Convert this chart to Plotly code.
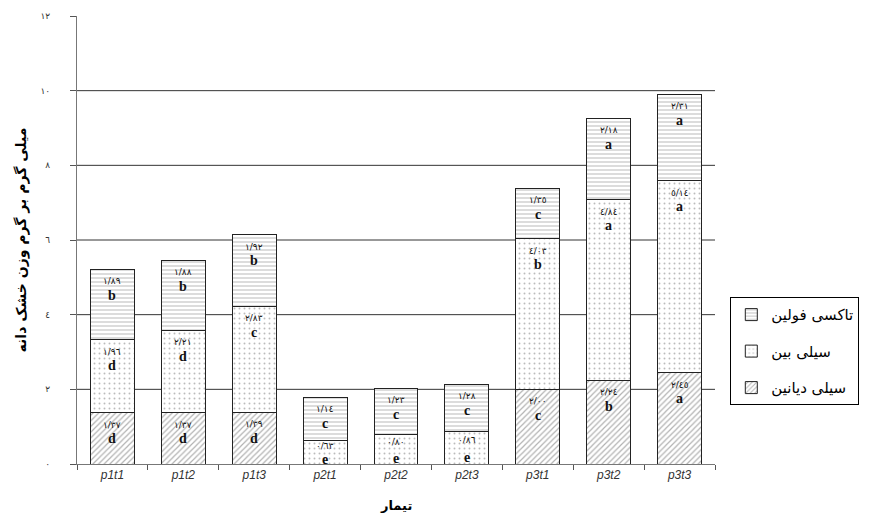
import plotly.graph_objects as go

categories = ["p1t1", "p1t2", "p1t3", "p2t1", "p2t2", "p2t3", "p3t1", "p3t2", "p3t3"]
silydianin = [1.37, 1.37, 1.39, 0.0, 0.0, 0.0, 2.00, 2.24, 2.45]
silybin = [1.96, 2.21, 2.83, 0.63, 0.80, 0.86, 4.03, 4.84, 5.14]
taxifolin = [1.89, 1.88, 1.92, 1.14, 1.23, 1.28, 1.35, 2.18, 2.31]
letters_silydianin = ["d", "d", "d", "", "", "", "c", "b", "a"]
letters_silybin = ["d", "d", "c", "e", "e", "e", "b", "a", "a"]
letters_taxifolin = ["b", "b", "b", "c", "c", "c", "c", "a", "a"]
names = ["سیلی دیانین", "سیلی بین", "تاکسی فولین"]
ytick_vals = [0, 2, 4, 6, 8, 10, 12]
ytick_text = ["٠", "٢", "٤", "٦", "٨", "١٠", "١٢"]
y_title = "میلی گرم بر گرم وزن خشک دانه"
x_title = "تیمار"

DIG = "٠١٢٣٤٥٦٧٨٩"


def fa(v):
    s = f"{v:.2f}".replace(".", "/")
    return "".join(DIG[int(c)] if c.isdigit() else c for c in s)


# page body has an 8px margin; size the figure to fill the rest of the window
W, H = 864, 514
M = dict(l=69, r=157, t=8, b=58)
plot_h = H - M["t"] - M["b"]
ymax = 12
ppu = plot_h / ymax

series = [silydianin, silybin, taxifolin]
letters = [letters_silydianin, letters_silybin, letters_taxifolin]
patterns = [
    dict(shape="/", size=4, solidity=0.3, fgcolor="#666666", bgcolor="white"),
    dict(shape=".", size=5, solidity=0.12, fgcolor="#777777", bgcolor="white"),
    dict(shape="-", size=4, solidity=0.3, fgcolor="#8a8a8a", bgcolor="white"),
]
ranks = [3, 2, 1]

fig = go.Figure()
for k, (name, vals, pat) in enumerate(zip(names, series, patterns)):
    fig.add_trace(go.Bar(
        x=categories, y=vals, name=name, legendgroup=f"g{k}", legendrank=ranks[k],
        marker=dict(color="white", pattern=pat, line=dict(color="#222222", width=1)),
        hoverinfo="x+y",
    ))

annotations = []
cum = [0.0] * len(categories)
for vals, lets in zip(series, letters):
    for i, v in enumerate(vals):
        cum[i] += v
        if v <= 0:
            continue
        h = v * ppu
        off1 = min(12, 0.25 * h)
        off2 = min(26, 0.8 * h)
        annotations.append(dict(
            x=categories[i], y=cum[i], xref="x", yref="y", text=fa(v),
            showarrow=False, yanchor="middle", yshift=-off1,
            font=dict(family="DejaVu Sans", size=9, color="#111111"),
        ))
        annotations.append(dict(
            x=categories[i], y=cum[i], xref="x", yref="y", text="<b>" + lets[i] + "</b>",
            showarrow=False, yanchor="middle", yshift=-off2,
            font=dict(family="Liberation Serif", size=14, color="#111111"),
        ))

annotations.append(dict(
    x=0.5, y=0, xref="paper", yref="paper", yanchor="top", yshift=-32,
    text="<b>" + x_title + "</b>", showarrow=False,
    font=dict(family="DejaVu Sans", size=13, color="black"),
))

shapes = []
for v in ytick_vals:
    if 0 < v < ymax:
        shapes.append(dict(type="line", xref="paper", yref="y", x0=0, x1=1, y0=v, y1=v,
                           line=dict(color="#333333", width=1), layer="below"))

fig.update_layout(
    width=W, height=H, margin=M,
    paper_bgcolor="white", plot_bgcolor="white",
    barmode="stack", bargap=0.38,
    showlegend=True,
    legend=dict(
        x=1.024, y=0.372, xanchor="left", yanchor="top",
        traceorder="grouped", bordercolor="black", borderwidth=1,
        font=dict(family="DejaVu Sans", size=15, color="black"),
        bgcolor="white", itemwidth=30, tracegroupgap=14,
    ),
    xaxis=dict(
        automargin=False,
        showline=True, linecolor="#777777", linewidth=1,
        ticks="outside", tickson="boundaries", ticklen=5, tickcolor="#555555",
        tickfont=dict(family="Liberation Sans", size=12, color="#333333", style="italic"),
        showgrid=False,
    ),
    yaxis=dict(
        automargin=False,
        range=[0, ymax], tickvals=ytick_vals, ticktext=ytick_text,
        showline=True, linecolor="#777777", linewidth=1,
        ticks="outside", ticklen=6, tickcolor="#555555",
        ticklabelstandoff=18,
        tickfont=dict(family="DejaVu Sans", size=9, color="#333333"),
        showgrid=False, zeroline=False,
        title=dict(text="<b>" + y_title + "</b>",
                   font=dict(family="DejaVu Sans", size=14, color="black"), standoff=10),
    ),
    annotations=annotations, shapes=shapes,
    font=dict(family="DejaVu Sans"),
)

fig.write_html("out.html")
